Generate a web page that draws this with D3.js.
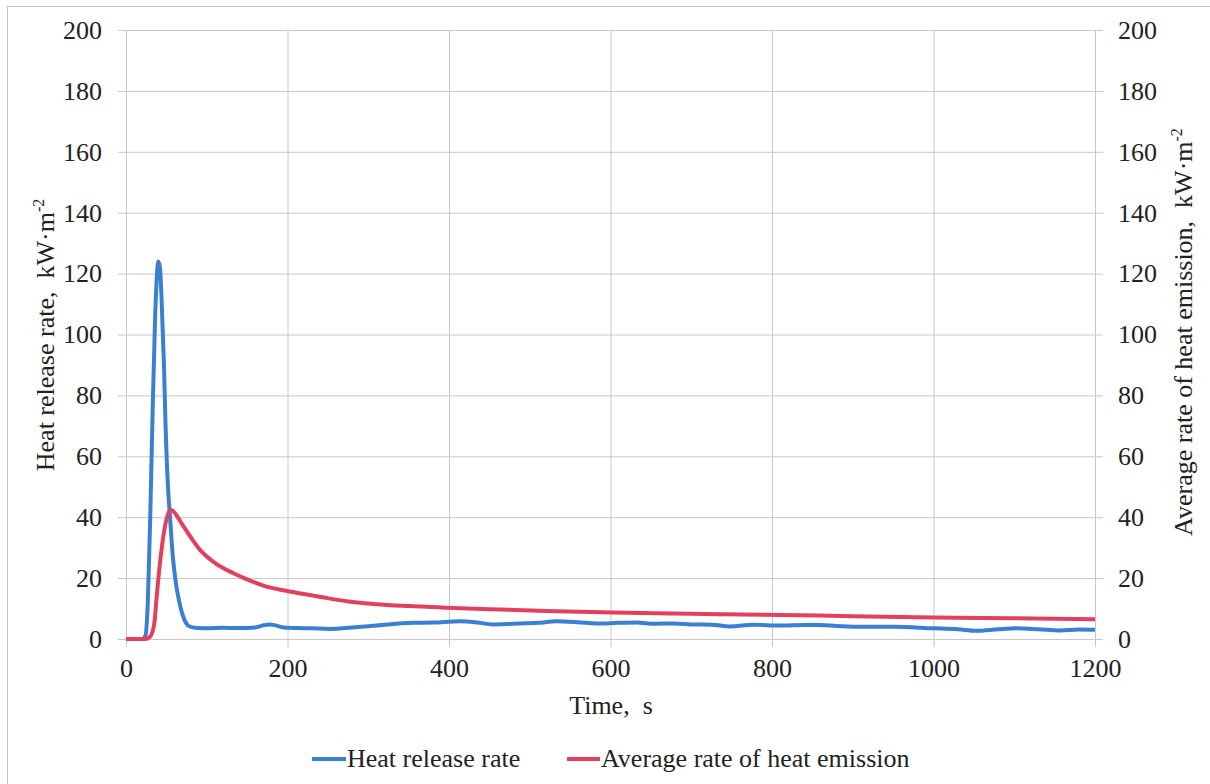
<!DOCTYPE html>
<html><head><meta charset="utf-8">
<script src="https://cdn.jsdelivr.net/npm/d3@7"></script>
<style>body{margin:0;background:#fff}svg{display:block} text{font-family:"Liberation Serif","Times New Roman",serif !important;}</style>
</head><body>
<svg id="c" width="1210" height="784"></svg>
<script>
// ---- data ----
const hrrTime = [0,10,20,24,27,30,33,36,38,40,42,44,47,49,52,54.5,58,62,65,70,75,80,90,100,120,140,160,170,178,186,195,210,230,252,280,310,355,380,414,435,454,480,510,533,560,583,610,632,655,678,700,725,748,777,810,840,859,880,910,950,1000,1030,1053,1080,1103,1130,1157,1180,1200];
const hrr     = [0,0,0,1,12,40,75,105,118,124,122,112,90,70,50,40,27,18,13.5,8,5,4,3.6,3.5,3.7,3.6,3.8,4.5,4.8,4.4,3.8,3.6,3.5,3.3,3.8,4.4,5.3,5.4,5.8,5.4,4.8,5.0,5.3,5.8,5.5,5.1,5.3,5.4,5.0,5.1,4.8,4.7,4.1,4.7,4.4,4.6,4.6,4.3,4.0,4.0,3.5,3.2,2.7,3.2,3.5,3.2,2.8,3.1,3.0];
const avgTime = [0,20,25,30,35,38,42,47.5,52,56,60,70,80,92,110,133,150,174,195,215,245,273,310,350,397,450,521,603,700,810,900,1000,1100,1200];
const avgRate = [0,0,0,0.8,5,13.9,24.8,35.8,41,42.4,41.5,37.5,33.5,29.2,25,21.6,19.6,17.2,16,15,13.6,12.4,11.4,10.8,10.3,9.8,9.2,8.7,8.3,7.9,7.5,7.1,6.8,6.5];
const xTicks = [0,200,400,600,800,1000,1200];
const yTicks = [0,20,40,60,80,100,120,140,160,180,200];
const seriesNames = ["Heat release rate","Average rate of heat emission"];
const seriesColors = ["#3b7fd1","#e2405f"];

const svg = d3.select("#c");
const FS = 26;
const L = 126, R = 1095, T = 30, B = 639;

svg.append("rect").attr("x",7.5).attr("y",6.5).attr("width",1210).attr("height",800)
  .attr("fill","none").attr("stroke","#c4c4c4").attr("stroke-width",1);

const x = d3.scaleLinear().domain([0,1200]).range([L,R]);
const yL = d3.scaleLinear().domain([0,200]).range([B,T]);
const yR = d3.scaleLinear().domain([0,200]).range([B,T]);

const g = svg.append("g");
g.selectAll(".hg").data(yTicks).join("line")
  .attr("x1",L-8).attr("x2",R+8).attr("y1",d=>yL(d)+0.5).attr("y2",d=>yL(d)+0.5)
  .attr("stroke","#c8c8c8").attr("stroke-width",1);
g.selectAll(".vg").data(xTicks).join("line")
  .attr("y1",T).attr("y2",B+8).attr("x1",d=>x(d)+0.5).attr("x2",d=>x(d)+0.5)
  .attr("stroke","#c8c8c8").attr("stroke-width",1);

const fmt = d3.format("d");
const axL = svg.append("g").attr("transform",`translate(${L-8},0)`)
  .call(d3.axisLeft(yL).tickValues(yTicks).tickFormat(fmt).tickSize(0).tickPadding(16));
const axR = svg.append("g").attr("transform",`translate(${R+8},0)`)
  .call(d3.axisRight(yR).tickValues(yTicks).tickFormat(fmt).tickSize(0).tickPadding(15));
const axB = svg.append("g").attr("transform",`translate(0,${B+8})`)
  .call(d3.axisBottom(x).tickValues(xTicks).tickFormat(fmt).tickSize(0).tickPadding(12));
[axL,axR,axB].forEach(a=>{
  a.select(".domain").remove();
  a.attr("font-size",FS).attr("font-family","Liberation Serif");
  a.selectAll("text").attr("fill","#222");
});

const line = d3.line().curve(d3.curveMonotoneX);
const s1 = hrrTime.map((t,i)=>[x(t),yL(hrr[i])]);
const s2 = avgTime.map((t,i)=>[x(t),yR(avgRate[i])]);
svg.append("path").attr("d",line(s1)).attr("fill","none")
  .attr("stroke",seriesColors[0]).attr("stroke-width",4).attr("stroke-linejoin","round");
svg.append("path").attr("d",line(s2)).attr("fill","none")
  .attr("stroke",seriesColors[1]).attr("stroke-width",4).attr("stroke-linejoin","round");

svg.append("text").attr("x",611).attr("y",714).attr("text-anchor","middle")
  .attr("font-size",FS).attr("fill","#222")
  .attr("xml:space","preserve").text("Time,  s");

function yTitle(cx, cy, label){
  const t = svg.append("text").attr("transform",`translate(${cx},${cy}) rotate(-90)`)
    .attr("text-anchor","middle").attr("font-size",FS).attr("fill","#222")
    .attr("xml:space","preserve");
  t.append("tspan").text(label + ",  kW·m");
  t.append("tspan").attr("font-size",16).attr("dy",-10).text("-2");
}
yTitle(54, 335, "Heat release rate");
yTitle(1192, 332, "Average rate of heat emission");

const leg = [[312, 348], [567, 602]];
seriesNames.forEach((n,i)=>{
  svg.append("line").attr("x1",leg[i][0]).attr("x2",leg[i][1]-2).attr("y1",759).attr("y2",759)
    .attr("stroke",seriesColors[i]).attr("stroke-width",4);
  svg.append("text").attr("x",leg[i][1]-1).attr("y",767).attr("font-size",FS)
    .attr("fill","#222").text(n);
});
</script>
</body></html>
